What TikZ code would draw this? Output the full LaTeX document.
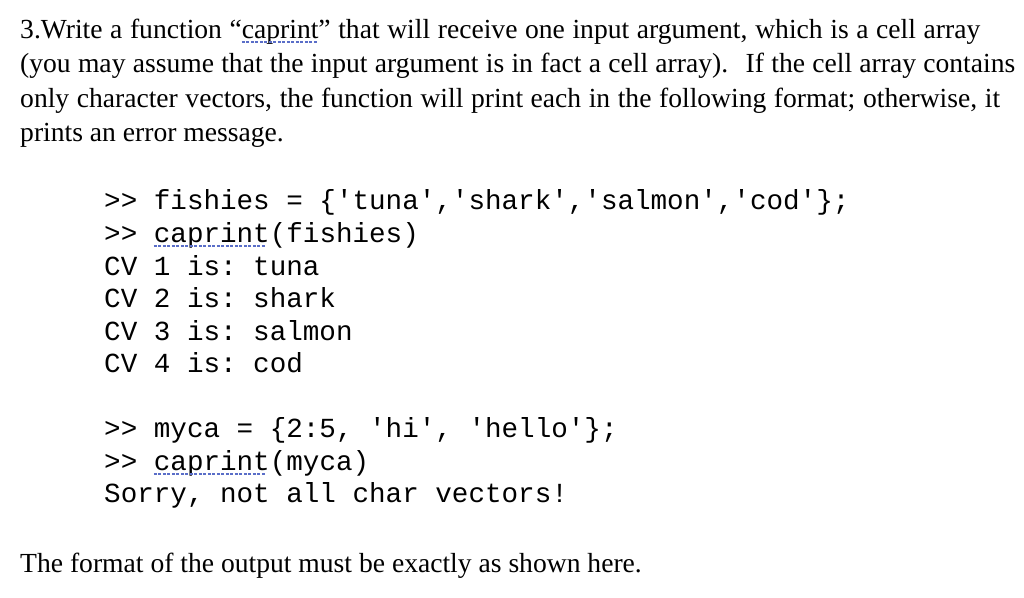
\documentclass[tikz,border=0pt]{standalone}
\usepackage{fontspec}
\setmainfont{Liberation Serif}
\setmonofont{Liberation Mono}
\definecolor{ulblue}{RGB}{90,110,200}
\newcommand{\dul}[1]{\setbox0\hbox{#1}\rlap{\copy0}\raisebox{-5pt}{\color{ulblue}\leaders\hbox to 4.5pt{\rule{3pt}{2.5pt}\hss}\hskip\wd0}}
\tikzset{
  para/.style={anchor=base west,inner sep=0pt,font=\fontsize{27.6}{30}\selectfont},
  code/.style={anchor=base west,inner sep=0pt,font=\ttfamily\fontsize{27.6}{30}\selectfont}
}
\begin{document}
\begin{tikzpicture}[x=1pt,y=-1pt]
\useasboundingbox[fill=white] (0,0) rectangle (1024,597);
\node[para] (l1) at (20,38) {\makebox[960pt][s]{3.Write a function “\dul{caprint}” that will receive one input argument, which is a cell array}};
\node[para] (l2) at (20,72) {\makebox[995pt][s]{(you may assume that the input argument is in fact a cell array). \ If the cell array contains}};
\node[para] (l3) at (20,107) {\makebox[980pt][s]{only character vectors, the function will print each in the following format; otherwise, it}};
\node[para] (l4) at (20,141) {prints an error message.};
\node[code] (c1) at (104,209) {>> fishies = \{'tuna','shark','salmon','cod'\};};
\node[code] (c2) at (104,242) {>> \dul{caprint}(fishies)};
\node[code] (c3) at (104,275) {CV 1 is: tuna};
\node[code] (c4) at (104,307) {CV 2 is: shark};
\node[code] (c5) at (104,340) {CV 3 is: salmon};
\node[code] (c6) at (104,372) {CV 4 is: cod};
\node[code] (c7) at (104,437) {>> myca = \{2:5, 'hi', 'hello'\};};
\node[code] (c8) at (104,470) {>> \dul{caprint}(myca)};
\node[code] (c9) at (104,502) {Sorry, not all char vectors!};
\node[para] (l5) at (20,572) {The format of the output must be exactly as shown here.};
\end{tikzpicture}
\end{document}
